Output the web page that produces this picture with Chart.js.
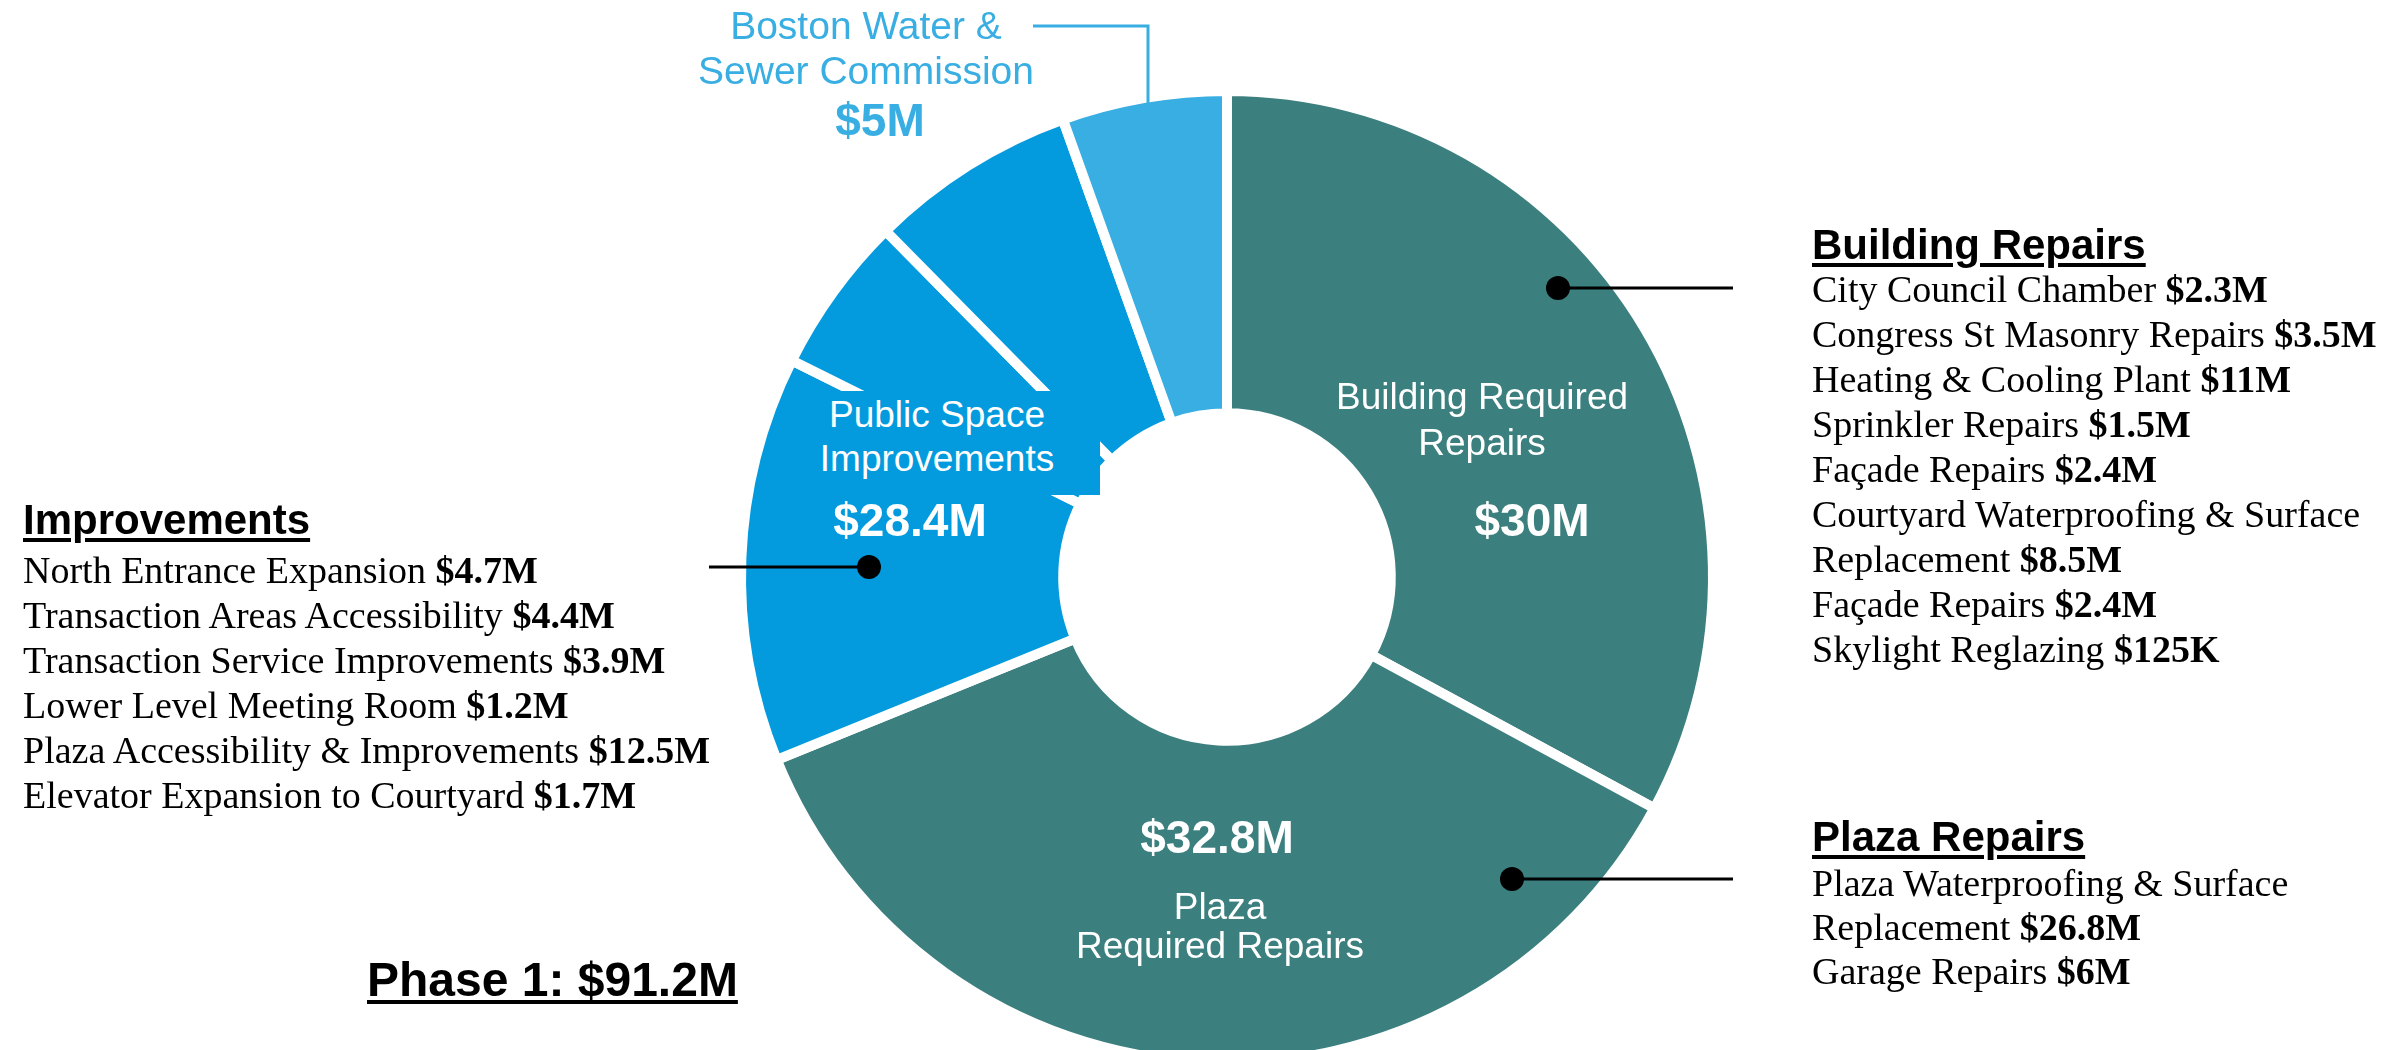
<!DOCTYPE html>
<html lang="en">
<head>
<meta charset="utf-8">
<title>Phase 1 Budget</title>
<script src="https://cdn.jsdelivr.net/npm/chart.js@4.4.1/dist/chart.umd.min.js"></script>
<style>
    html, body { margin: 0; padding: 0; background: #fff; overflow: hidden; }
    #stage { position: relative; width: 2400px; height: 1050px; }
    #phaseChart { position: absolute; left: 0; top: 0; }
    .txt { position: absolute; white-space: nowrap; font-family: "Liberation Sans", Arial, sans-serif; }
    .mid { transform: translateX(-50%); text-align: center; }
    .inner { color: #fff; font-size: 37px; }
    .amount { color: #fff; font-size: 46px; line-height: 52px; font-weight: bold; }
    .water { color: #38AEE2; }
    .list { position: absolute; font-family: "Liberation Serif", "Times New Roman", serif; font-size: 38px; line-height: 45px; white-space: nowrap; color: #000; }
    .head { font-family: "Liberation Sans", Arial, sans-serif; font-weight: bold; font-size: 42px; text-decoration: underline; text-decoration-thickness: 4px; text-underline-offset: 4px; color: #000; }
    .list b { font-weight: bold; }
    /* label box sits on top of the blue slices and hides the gaps under it */
    #psiBox { position: absolute; left: 800px; top: 391px; width: 300px; height: 104px; background: #049BDE; padding: 2px 26px 0 0; box-sizing: border-box; line-height: 44px; text-align: center; }
</style>
</head>
<body>
<div id="stage">
    <canvas id="phaseChart" width="2400" height="1050"></canvas>

    <!-- slice labels -->
    <div class="txt mid inner" style="left:1482px; top:374px; line-height:46px;">Building Required<br>Repairs</div>
    <div class="txt mid amount" id="valBuilding" style="left:1532px; top:494px;"></div>

    <div class="txt mid amount" id="valPlaza" style="left:1217px; top:811px;"></div>
    <div class="txt mid inner" style="left:1220px; top:887px; line-height:39px;">Plaza<br>Required Repairs</div>

    <div id="psiBox" class="txt inner">Public Space<br>Improvements</div>
    <div class="txt mid amount" id="valPublic" style="left:910px; top:494px;"></div>

    <div class="txt mid water" style="left:866px; top:3px; font-size:39px; line-height:45px;">Boston Water &amp;<br>Sewer Commission</div>
    <div class="txt mid amount water" id="valWater" style="left:880px; top:94px;"></div>

    <!-- breakdown lists -->
    <div class="list" style="left:1812px; top:223px;">
        <div class="head" style="line-height:44px;">Building Repairs</div>
        City Council Chamber <b>$2.3M</b><br>
        Congress St Masonry Repairs <b>$3.5M</b><br>
        Heating &amp; Cooling Plant <b>$11M</b><br>
        Sprinkler Repairs <b>$1.5M</b><br>
        Façade Repairs <b>$2.4M</b><br>
        Courtyard Waterproofing &amp; Surface<br>
        Replacement <b>$8.5M</b><br>
        Façade Repairs <b>$2.4M</b><br>
        Skylight Reglazing <b>$125K</b>
    </div>

    <div class="list" style="left:1812px; top:813px; line-height:44px;">
        <div class="head" style="line-height:48px;">Plaza Repairs</div>
        Plaza Waterproofing &amp; Surface<br>
        Replacement <b>$26.8M</b><br>
        Garage Repairs <b>$6M</b>
    </div>

    <div class="list" style="left:23px; top:492px;">
        <div class="head" style="line-height:56px;">Improvements</div>
        North Entrance Expansion <b>$4.7M</b><br>
        Transaction Areas Accessibility <b>$4.4M</b><br>
        Transaction Service Improvements <b>$3.9M</b><br>
        Lower Level Meeting Room <b>$1.2M</b><br>
        Plaza Accessibility &amp; Improvements <b>$12.5M</b><br>
        Elevator Expansion to Courtyard <b>$1.7M</b>
    </div>

    <div class="txt head" id="phaseTotal" style="left:367px; top:952px; font-size:48px; line-height:56px;"></div>
</div>

<script>
// slices clockwise from 12 o'clock, in $M
const sliceLabels = [
    'Building Required Repairs',
    'Plaza Required Repairs',
    'Public Space Improvements',
    'Public Space Improvements',
    'Public Space Improvements',
    'Boston Water & Sewer Commission'
];
const sliceValues = [30, 32.8, 12.3, 4.8, 6.3, 5];
const publicSlices = [2, 3, 4, 5];

const sliceColors = ['#3B7F7E', '#3B7F7E', '#049BDE', '#049BDE', '#049BDE', '#38AEE2'];

const money = v => '$' + Number(v.toFixed(1)) + 'M';
const sumOf = idx => idx.reduce((s, i) => s + sliceValues[i], 0);

document.getElementById('valBuilding').textContent = money(sliceValues[0]);
document.getElementById('valPlaza').textContent = money(sliceValues[1]);
document.getElementById('valPublic').textContent = money(sumOf(publicSlices));
document.getElementById('valWater').textContent = money(sliceValues[5]);
document.getElementById('phaseTotal').textContent =
    'Phase 1: ' + money(sliceValues.reduce((a, b) => a + b, 0));

//..leader lines, offsets from the ring centre
const callouts = [
    { dot: [331, -289], end: 506 },
    { dot: [285, 302], end: 506 },
    { dot: [-358, -10], end: -518 }
];
const waterLeader = [[-194, -551], [-79, -551], [-79, -467]];

const calloutPlugin = {
    id: 'callouts',
    afterDatasetsDraw(chart) {
        const arc = chart.getDatasetMeta(0).data[0];
        const cx = arc.x, cy = arc.y;
        const ctx = chart.ctx;
        ctx.save();

        ctx.strokeStyle = '#000';
        ctx.fillStyle = '#000';
        ctx.lineWidth = 3;
        callouts.forEach(c => {
            const x = cx + c.dot[0], y = cy + c.dot[1];
            ctx.beginPath();
            ctx.moveTo(x, y);
            ctx.lineTo(cx + c.end, y);
            ctx.stroke();
            ctx.beginPath();
            ctx.arc(x, y, 12, 0, Math.PI * 2);
            ctx.fill();
        });

        ctx.strokeStyle = '#38AEE2';
        ctx.beginPath();
        waterLeader.forEach((p, i) => {
            if (i === 0) ctx.moveTo(cx + p[0], cy + p[1]);
            else ctx.lineTo(cx + p[0], cy + p[1]);
        });
        ctx.stroke();

        ctx.restore();
    }
};

new Chart(document.getElementById('phaseChart'), {
    type: 'doughnut',
    data: {
        labels: sliceLabels,
        datasets: [{
            data: sliceValues,
            backgroundColor: sliceColors,
            borderColor: '#ffffff',
            borderWidth: 10,
            hoverOffset: 0
        }]
    },
    options: {
        responsive: false,
        devicePixelRatio: 1,
        animation: false,
        events: [],
        radius: 486,
        cutout: '33.7%',
        layout: {
            padding: { top: 104, bottom: 0, left: 755, right: 701 }
        },
        plugins: {
            legend: { display: false },
            tooltip: { enabled: false }
        }
    },
    plugins: [calloutPlugin]
});
</script>
</body>
</html>
